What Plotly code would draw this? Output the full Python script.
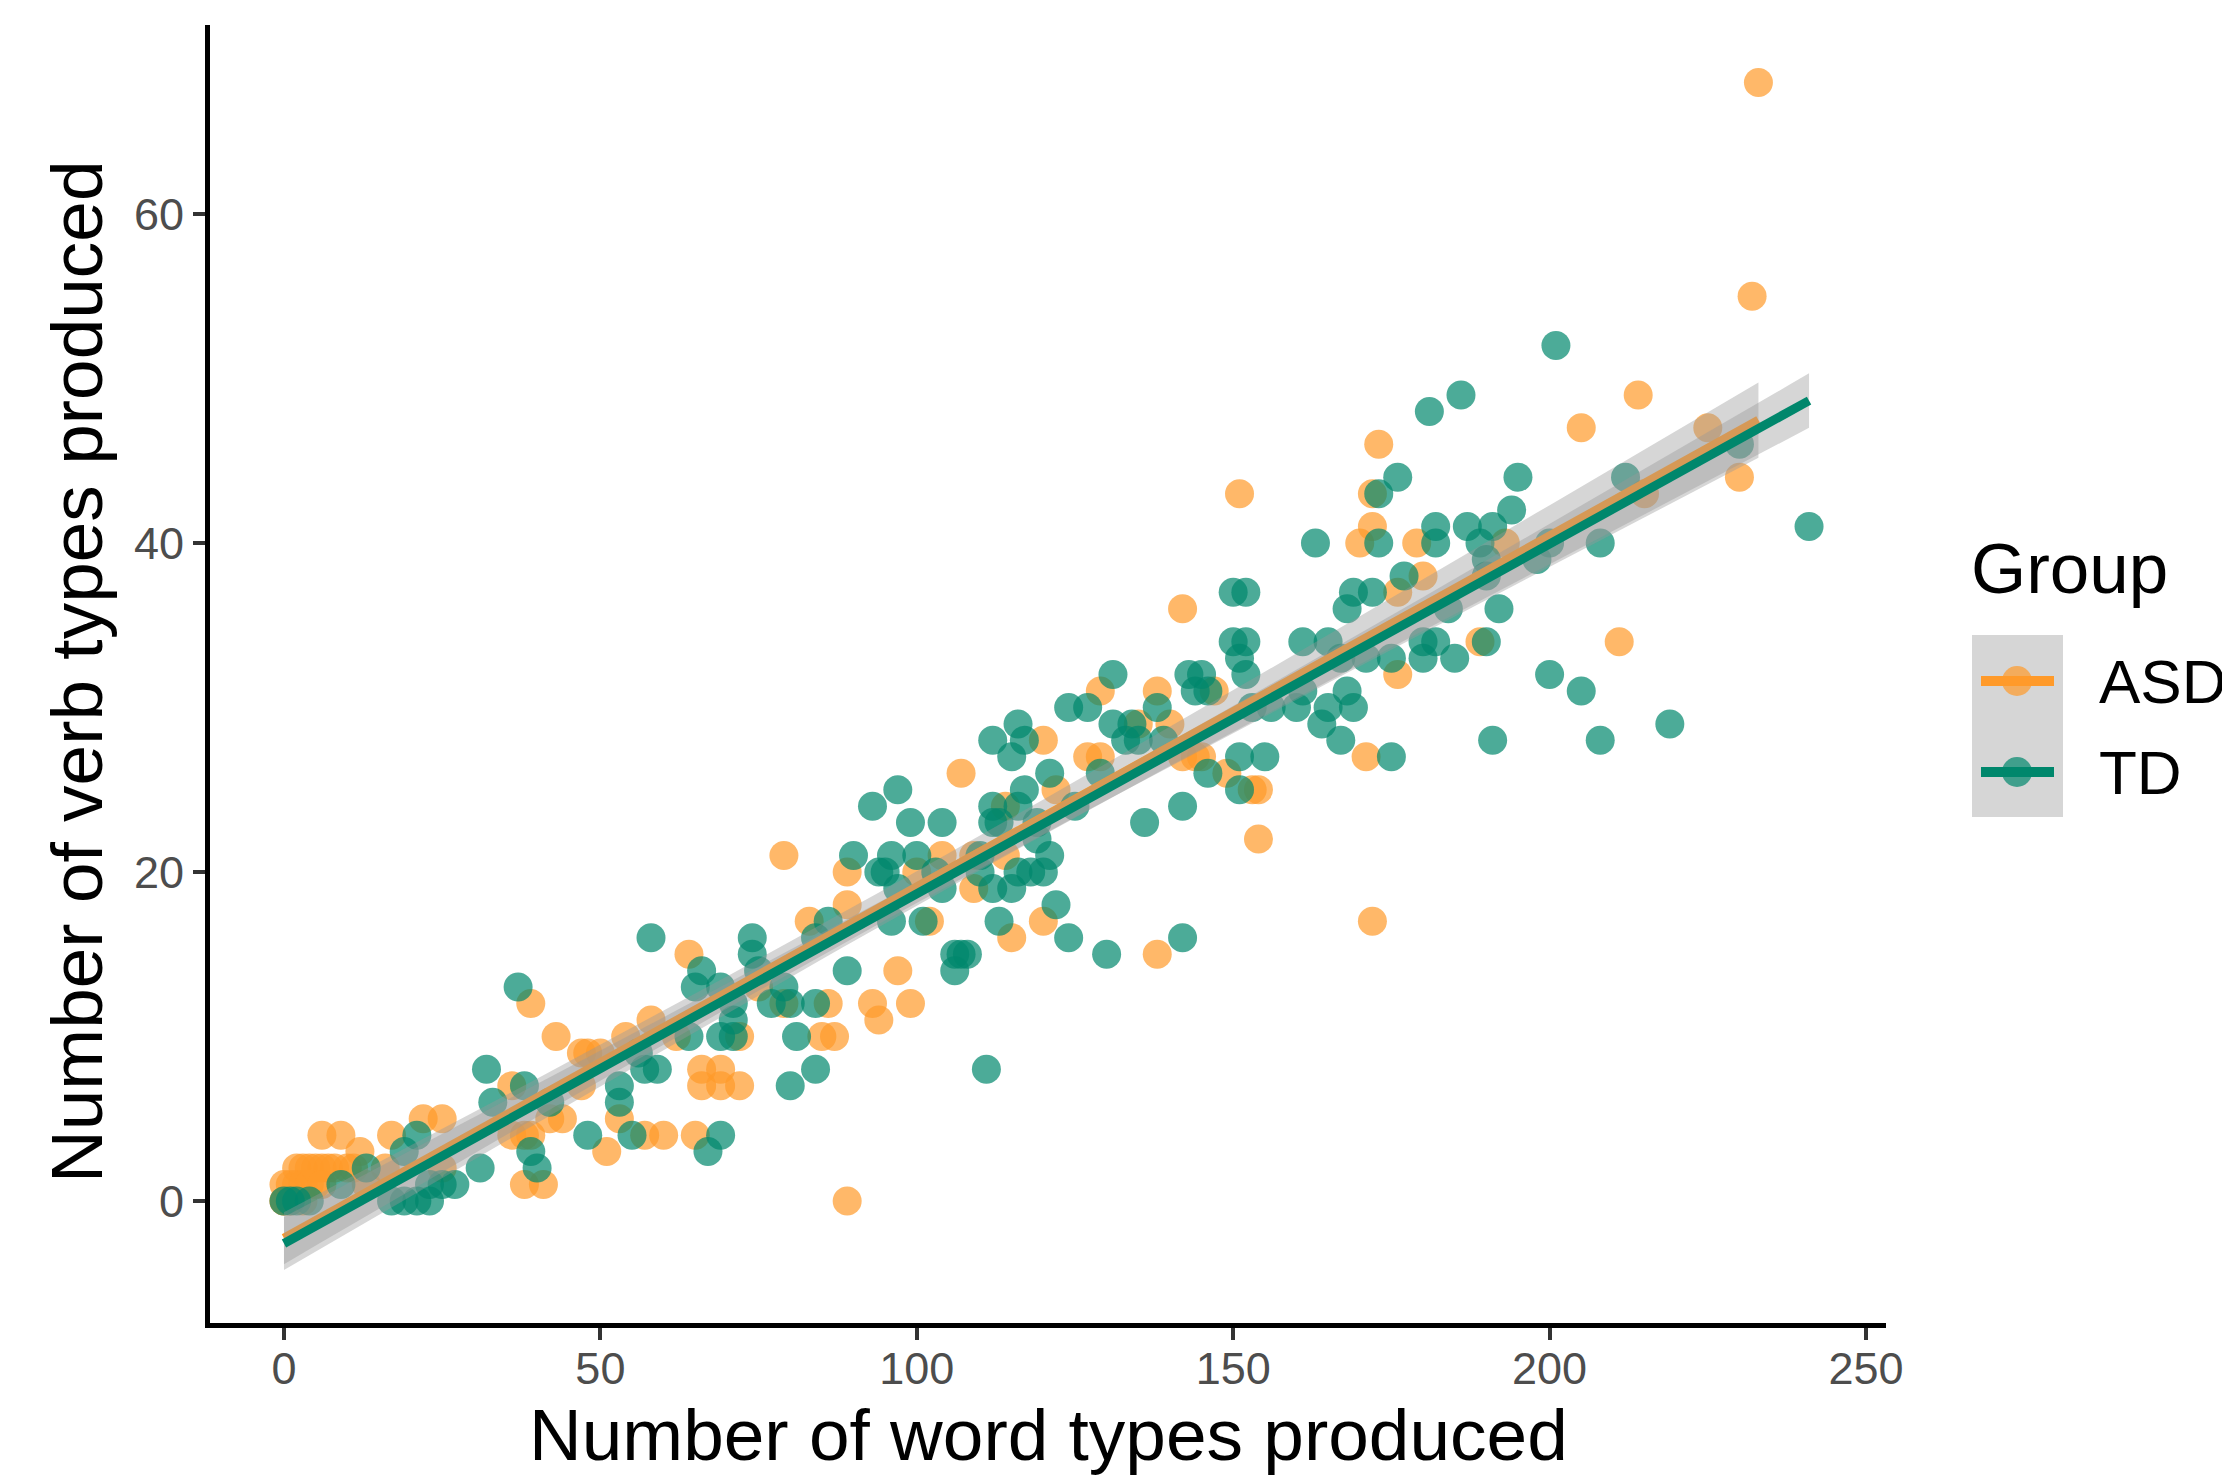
import numpy as np
import plotly.graph_objects as go

# ---------------- data ----------------
asd_words = [0, 0, 1, 2, 3, 4, 5, 6, 8, 10, 6, 9, 12, 13, 16, 17, 22, 25, 25,
             0, 1, 2, 3, 4, 5, 7, 3, 6, 11,
             36, 36, 38, 39, 38, 41, 39, 43, 42, 44, 47, 47, 48, 50, 51, 53, 54,
             58, 57, 60, 65, 62, 64, 66, 69, 66, 69, 72, 72, 75, 79, 79, 83, 85,
             87, 86, 89, 89, 89, 93, 94, 97, 99, 100, 102, 104, 107, 109, 109,
             114, 114, 115, 120, 120, 122, 127, 129, 129, 135, 138, 138, 140,
             142, 144, 145, 142, 147, 149, 151, 153, 154, 154, 170, 171, 172,
             172, 172, 173, 176, 176, 179, 180, 189, 193, 205, 211, 214, 215,
             225, 230, 232, 233]
asd_verbs = [0, 1, 1, 2, 2, 2, 1, 2, 2, 2, 4, 4, 3, 1, 2, 4, 5, 5, 2,
             0, 0, 1, 1, 1, 2, 2, 0, 1, 2,
             7, 4, 4, 4, 1, 1, 12, 10, 5, 5, 9, 7, 9, 9, 3, 5, 10,
             11, 4, 4, 4, 10, 15, 8, 8, 7, 7, 7, 10, 13, 12, 21, 17, 10,
             10, 12, 18, 20, 0, 12, 11, 14, 12, 20, 17, 21, 26, 19, 21,
             21, 24, 16, 17, 28, 25, 27, 27, 31, 29, 31, 15, 29,
             27, 27, 27, 36, 31, 26, 43, 25, 25, 22, 40, 27, 43,
             41, 17, 46, 37, 32, 40, 38, 34, 40, 47, 34, 49, 43,
             47, 44, 55, 68]

td_words = [0, 1, 2, 4, 9, 13, 19, 21, 17, 19, 21, 23, 23, 25, 27, 31, 32, 33,
            37, 38, 39, 40, 42, 48, 53, 53, 57, 56, 59, 55, 67, 69, 58, 65, 66,
            69, 64, 69, 71, 71, 71, 74, 74, 75, 77, 79, 80, 84, 81, 84, 80, 84,
            86, 89, 90, 93, 94, 97, 99, 104, 96, 95, 100, 103, 97, 104, 96, 101,
            113, 110, 110, 112, 115, 116, 118, 120, 121, 119, 119, 112, 113, 112,
            116, 117, 121, 115, 112, 117, 116, 122, 124, 130, 142, 106, 107, 108,
            106, 111, 124, 127, 125, 129, 131, 131, 134, 133, 135, 138, 139, 143,
            136, 142, 144, 145, 146, 146, 151, 151, 155, 150, 152, 150, 152, 151,
            152, 153, 156, 160, 161, 161, 163, 165, 167, 168, 169, 165, 164, 167,
            175, 171, 175, 180, 169, 172, 168, 173, 176, 173, 177, 181, 186, 201,
            195, 212, 194, 182, 187, 191, 182, 189, 190, 200, 208, 198, 190, 184,
            192, 182, 190, 180, 185, 200, 205, 191, 208, 219, 230, 241]
td_verbs = [0, 0, 0, 0, 1, 2, 3, 4, 0, 0, 0, 0, 1, 1, 1, 2, 8, 6,
            13, 7, 3, 2, 6, 4, 6, 7, 8, 9, 8, 4, 3, 4, 16, 13, 14,
            13, 10, 10, 10, 11, 12, 16, 15, 14, 12, 13, 12, 12, 10, 8, 7, 16,
            17, 14, 21, 24, 20, 25, 23, 23, 21, 20, 21, 20, 19, 19, 17, 17,
            17, 20, 21, 19, 19, 20, 20, 20, 21, 22, 23, 23, 23, 24,
            24, 25, 26, 27, 28, 28, 29, 18, 16, 15, 16, 15, 15, 15,
            14, 8, 30, 30, 24, 26, 32, 29, 29, 28, 28, 30, 28, 32,
            23, 24, 31, 32, 31, 26, 25, 27, 27, 37, 37, 34, 34, 33,
            32, 30, 30, 30, 31, 34, 40, 34, 33, 31, 30, 30, 29, 28,
            27, 33, 33, 34, 37, 37, 36, 43, 44, 40, 38, 48, 49, 52,
            44, 44, 42, 41, 41, 41, 40, 40, 39, 40, 40, 39, 38, 36,
            36, 34, 34, 33, 33, 32, 31, 28, 28, 29, 46, 41]

group_names = ["ASD", "TD"]
x_ticks = [0, 50, 100, 150, 200, 250]
y_ticks = [0, 20, 40, 60]

point_colors = {"ASD": "rgba(255,154,42,0.7)", "TD": "rgba(0,135,108,0.7)"}
line_colors = {"ASD": "#FF9A2A", "TD": "#00876C"}
ribbon_fill = "rgba(153,153,153,0.4)"
FONT = "Liberation Sans, Arial, Helvetica, sans-serif"

# ---------------- geometry (page pixels) ----------------
PAGE_W, PAGE_H = 2230, 1475
OFF = 8                                   # default body margin of the page
W, H = PAGE_W - OFF, PAGE_H - OFF
L, R, T, B = 210, 1886, 25, 1323          # plot area in page pixels
X_RANGE = [-11.69, 253.16]
Y_RANGE = [-7.42, 71.49]


def px(xp):
    return (xp - L) / (R - L)


def py(yp):
    return (B - yp) / (B - T)


def lm_fit(x, y, n_out=80, tq=1.97):
    x = np.asarray(x, float)
    y = np.asarray(y, float)
    n = len(x)
    b1, b0 = np.polyfit(x, y, 1)
    resid = y - (b0 + b1 * x)
    s = np.sqrt((resid ** 2).sum() / (n - 2))
    xm = x.mean()
    sxx = ((x - xm) ** 2).sum()
    xs = np.linspace(x.min(), x.max(), n_out)
    yh = b0 + b1 * xs
    se = s * np.sqrt(1.0 / n + (xs - xm) ** 2 / sxx)
    return xs, yh, yh - tq * se, yh + tq * se


data = {"ASD": (asd_words, asd_verbs), "TD": (td_words, td_verbs)}

fig = go.Figure()

# points
for g in group_names:
    xw, yv = data[g]
    fig.add_trace(go.Scatter(
        x=xw, y=yv, mode="markers", name=g, showlegend=False,
        marker=dict(size=29, color=point_colors[g], line=dict(width=0)),
        hoverinfo="skip"))

# smooth: ribbon then line per group (ggplot order)
for g in group_names:
    xw, yv = data[g]
    xs, yh, lo, hi = lm_fit(xw, yv)
    fig.add_trace(go.Scatter(
        x=np.concatenate([xs, xs[::-1]]), y=np.concatenate([hi, lo[::-1]]),
        mode="lines", fill="toself", fillcolor=ribbon_fill,
        line=dict(width=0), showlegend=False, hoverinfo="skip"))
    fig.add_trace(go.Scatter(
        x=xs, y=yh, mode="lines", line=dict(color=line_colors[g], width=9),
        showlegend=False, hoverinfo="skip"))

axis_common = dict(
    showgrid=False, zeroline=False, showline=True, linecolor="black",
    linewidth=5, ticks="outside", ticklen=12, tickwidth=4,
    tickcolor="#333333", tickfont=dict(family=FONT, size=45, color="#4D4D4D"),
)
fig.update_xaxes(range=X_RANGE, tickvals=x_ticks,
                 ticktext=[str(v) for v in x_ticks],
                 ticklabelstandoff=-10, **axis_common)
fig.update_yaxes(range=Y_RANGE, tickvals=y_ticks,
                 ticktext=[str(v) for v in y_ticks], **axis_common)

# ---------------- legend (drawn manually, ggplot style) ----------------
shapes = []
key_rows = {"ASD": 681, "TD": 772}
shapes.append(dict(type="rect", xref="paper", yref="paper",
                   x0=px(1972), x1=px(2063), y0=py(817), y1=py(635),
                   fillcolor=ribbon_fill, line=dict(width=0)))
for g in group_names:
    cy = key_rows[g]
    shapes.append(dict(type="circle", xref="paper", yref="paper",
                       x0=px(2017 - 15), x1=px(2017 + 15),
                       y0=py(cy + 15), y1=py(cy - 15),
                       fillcolor=point_colors[g], line=dict(width=0)))
    shapes.append(dict(type="line", xref="paper", yref="paper",
                       x0=px(1981), x1=px(2054), y0=py(cy), y1=py(cy),
                       line=dict(color=line_colors[g], width=10)))

annotations = [
    dict(text="Number of word types produced", xref="paper", yref="paper",
         x=px(1048), y=py(1434), xanchor="center", yanchor="middle",
         showarrow=False, font=dict(family=FONT, size=73, color="black")),
    dict(text="Number of verb types produced", xref="paper", yref="paper",
         x=px(76), y=py(672), xanchor="center", yanchor="middle",
         textangle=-90, showarrow=False,
         font=dict(family=FONT, size=73, color="black")),
    dict(text="Group", xref="paper", yref="paper", x=px(1969), y=py(568),
         xanchor="left", yanchor="middle", showarrow=False,
         font=dict(family=FONT, size=71, color="black")),
]
for g in group_names:
    annotations.append(dict(text=g, xref="paper", yref="paper", x=px(2097),
                            y=py(key_rows[g]), xanchor="left",
                            yanchor="middle", showarrow=False,
                            font=dict(family=FONT, size=62, color="black")))

fig.update_layout(
    width=W, height=H,
    margin=dict(l=L - OFF, r=PAGE_W - R, t=T - OFF, b=PAGE_H - B),
    paper_bgcolor="white", plot_bgcolor="white",
    showlegend=False, shapes=shapes, annotations=annotations,
    font=dict(family=FONT),
)

fig.write_html("out.html", config={"displayModeBar": False})
